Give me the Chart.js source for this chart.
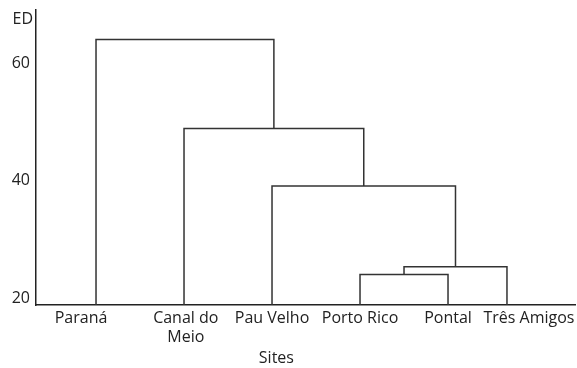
<!DOCTYPE html>
<html>
<head>
<meta charset="utf-8">
<script src="https://cdn.jsdelivr.net/npm/chart.js@4/dist/chart.umd.min.js"></script>
<style>
  html, body { margin: 0; padding: 0; background: #fff; }
  canvas { display: block; }
</style>
</head>
<body>
<canvas id="c" width="577" height="368"></canvas>
<script>
// Sampling sites, in dendrogram leaf order
const sites = ['Paraná', ['Canal do', 'Meio'], 'Pau Velho', 'Porto Rico', 'Pontal', 'Três Amigos'];
// Leaf slot of each site along the horizontal axis
const sitePos = [0, 1, 2, 3, 4, 4.67];
// Agglomeration steps: [cluster a, cluster b, ED at fusion]; ids >= 6 refer to earlier steps
const merges = [
  [3, 4, 23.5],
  [6, 5, 24.8],
  [2, 7, 38.6],
  [1, 8, 48.4],
  [0, 9, 63.6]
];
const edTicks = [20, 40, 60];

const Y_MIN = 18.29, Y_MAX = 68.63;
const X_MIN = -0.682, X_MAX = 5.443;
// small horizontal nudges of the site names relative to their leaves
const labelNudge = [-0.17, 0.02, 0, 0, 0, 0.25];

const INK = '#222';
const LINK = '#333';

// Build one bracket per fusion: child a up, across, down to child b
const nodeX = sitePos.slice();
const nodeH = sitePos.map(() => Y_MIN);
const datasets = merges.map(([a, b, h]) => {
  const pts = [
    { x: nodeX[a], y: nodeH[a] },
    { x: nodeX[a], y: h },
    { x: nodeX[b], y: h },
    { x: nodeX[b], y: nodeH[b] }
  ];
  nodeX.push((nodeX[a] + nodeX[b]) / 2);
  nodeH.push(h);
  return {
    data: pts,
    showLine: true,
    borderColor: LINK,
    borderWidth: 1.5,
    pointRadius: 0,
    tension: 0,
    fill: false
  };
});

Chart.defaults.font.family = "'Open Sans', sans-serif";
Chart.defaults.font.size = 16;
Chart.defaults.color = INK;

const axisNames = {
  id: 'axisNames',
  afterDraw(chart) {
    const ctx = chart.ctx;
    const area = chart.chartArea;
    ctx.save();
    ctx.font = "16px 'Open Sans', sans-serif";
    ctx.fillStyle = INK;
    ctx.textBaseline = 'middle';
    ctx.textAlign = 'right';
    ctx.fillText('ED', area.left - 3, 19);
    ctx.textAlign = 'center';
    ctx.fillText('Sites', chart.width * 0.479, 358);
    ctx.restore();
  }
};

new Chart(document.getElementById('c'), {
  type: 'scatter',
  data: { datasets },
  plugins: [axisNames],
  options: {
    responsive: false,
    animation: false,
    devicePixelRatio: 1,
    layout: { padding: { top: 10, right: 2, left: 0, bottom: 0 } },
    plugins: { legend: { display: false }, tooltip: { enabled: false } },
    scales: {
      x: {
        type: 'linear',
        min: X_MIN,
        max: X_MAX,
        grid: { display: false, drawTicks: false },
        border: { display: true, color: INK, width: 1.5 },
        afterBuildTicks: (scale) => {
          scale.ticks = sitePos.map((p, i) => ({ value: p + labelNudge[i] }));
        },
        afterFit: (scale) => {
          scale.height = 63;
          scale.paddingLeft = 0;
          scale.paddingRight = 0;
        },
        ticks: {
          autoSkip: false,
          maxRotation: 0,
          padding: 4,
          callback: (v, i) => sites[i]
        }
      },
      y: {
        type: 'linear',
        min: Y_MIN,
        max: Y_MAX,
        grid: { display: false, drawTicks: false },
        border: { display: true, color: INK, width: 1.5 },
        afterBuildTicks: (scale) => {
          scale.ticks = edTicks.map(v => ({ value: v }));
        },
        afterFit: (scale) => {
          scale.width = 36;
          scale.paddingTop = 0;
          scale.paddingBottom = 0;
        },
        ticks: { padding: 6, labelOffset: 3 }
      }
    }
  }
});
</script>
</body>
</html>
